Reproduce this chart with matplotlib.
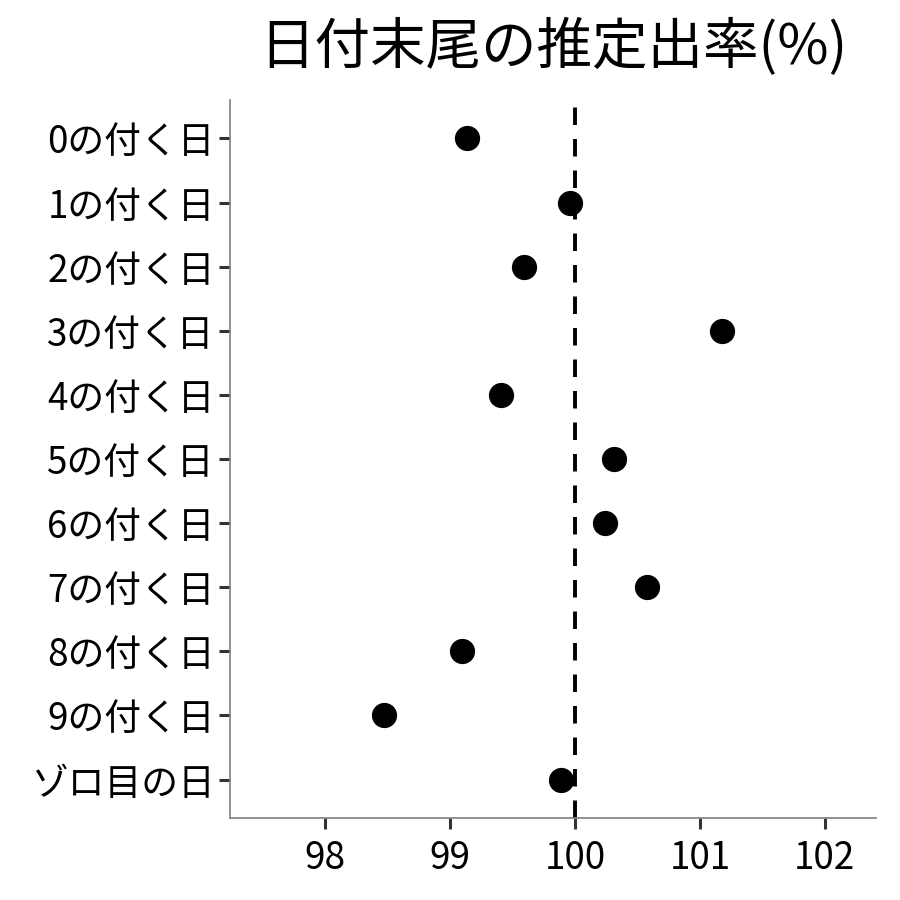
import matplotlib.pyplot as plt

plt.rcParams['font.family'] = ['Noto Sans CJK JP', 'DejaVu Sans']

labels = ['0の付く日', '1の付く日', '2の付く日', '3の付く日', '4の付く日', '5の付く日',
          '6の付く日', '7の付く日', '8の付く日', '9の付く日', 'ゾロ目の日']
rates = [99.14, 99.96, 99.59, 101.18, 99.41, 100.31, 100.24, 100.58, 99.10, 98.47, 99.89]
xticks = [98, 99, 100, 101, 102]

fig = plt.figure(figsize=(9, 9), dpi=100)
ax = fig.add_axes([230/900, 82/900, 646/900, 718/900])

ypos = list(range(len(labels)))
ax.axvline(100, color='black', lw=2.8, dashes=(4.5, 3.6), zorder=1)
ax.scatter(rates, ypos, s=330, color='black', zorder=3, linewidths=0)

ax.set_xlim(97.24, 102.41)
ax.set_ylim(len(labels) - 0.4, -0.6)
ax.set_yticks(ypos)
ax.set_yticklabels(labels)
ax.set_xticks(xticks)
ax.set_xticklabels([str(v) for v in xticks])

for s in ['top', 'right']:
    ax.spines[s].set_visible(False)
for s in ['left', 'bottom']:
    ax.spines[s].set_color('#7f7f7f')
    ax.spines[s].set_linewidth(1.2)
ax.tick_params(axis='both', length=8, width=2.2, color='#333333',
               labelsize=26.5, labelcolor='black', pad=3)
ax.tick_params(axis='x', pad=7)

ax.set_title('日付末尾の推定出率(%)', fontsize=40, pad=26)

plt.savefig('out.png', dpi=100)
